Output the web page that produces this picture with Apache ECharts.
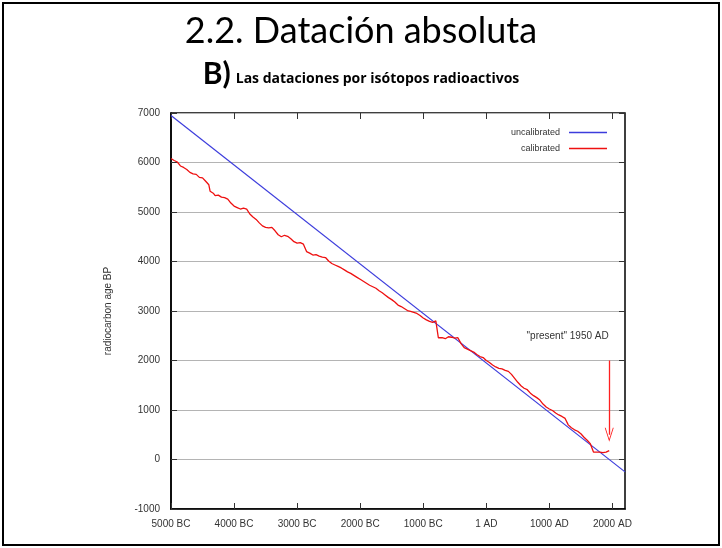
<!DOCTYPE html>
<html>
<head>
<meta charset="utf-8">
<script src="https://cdn.jsdelivr.net/npm/echarts@6/dist/echarts.min.js"></script>
<style>html,body{margin:0;padding:0;background:#fff}#c{width:722px;height:548px}</style>
</head>
<body>
<div id="c"></div>
<script>
// ---- data ----
const xTicks = [-5000, -4000, -3000, -2000, -1000, 0, 1000, 2000];
const yTicks = [-1000, 0, 1000, 2000, 3000, 4000, 5000, 6000, 7000];
const uncalYears = [-5000, 2200];
const uncalValues = [6950, -250];
const calYears = [-5000,-4950,-4900,-4850,-4800,-4750,-4700,-4650,-4600,-4550,-4500,-4450,-4400,-4380,-4330,-4300,-4250,-4200,-4150,-4100,-4050,-4000,-3950,-3900,-3850,-3800,-3750,-3700,-3650,-3600,-3550,-3500,-3450,-3400,-3350,-3300,-3250,-3200,-3150,-3100,-3050,-3000,-2950,-2900,-2850,-2800,-2750,-2700,-2650,-2600,-2550,-2500,-2450,-2400,-2350,-2300,-2250,-2200,-2150,-2100,-2050,-2000,-1950,-1900,-1850,-1800,-1750,-1700,-1650,-1600,-1550,-1500,-1450,-1400,-1350,-1300,-1250,-1200,-1150,-1100,-1050,-1000,-950,-900,-850,-800,-760,-700,-650,-600,-550,-500,-450,-400,-350,-300,-250,-200,-150,-100,-50,0,50,100,150,200,250,300,350,400,450,500,550,600,650,700,750,800,850,900,950,1000,1050,1100,1150,1200,1250,1300,1350,1400,1450,1500,1550,1600,1650,1700,1750,1800,1850,1900,1950];
const calValues = [6080,6040,6010,5930,5900,5860,5800,5770,5760,5700,5690,5620,5550,5420,5380,5330,5340,5300,5290,5260,5180,5120,5090,5060,5080,5060,4960,4900,4850,4780,4720,4690,4680,4690,4620,4540,4500,4530,4510,4460,4400,4370,4380,4350,4200,4170,4130,4140,4110,4090,4080,4010,3960,3930,3900,3870,3830,3790,3760,3720,3680,3640,3600,3560,3520,3490,3460,3410,3370,3320,3270,3230,3180,3120,3090,3050,3010,2990,2970,2950,2910,2860,2820,2790,2770,2800,2460,2460,2440,2480,2470,2450,2460,2340,2260,2230,2200,2170,2120,2080,2060,2000,1960,1910,1870,1840,1830,1800,1780,1720,1640,1560,1490,1440,1410,1340,1290,1250,1200,1120,1060,1020,990,940,900,870,830,700,640,600,570,520,450,390,320,150,150,150,140,150,180];
const seriesNames = ['uncalibrated', 'calibrated'];
const seriesColors = ['#3c3cdc', '#ee1010'];
const arrowFrom = [1950, 2000];
const arrowTo = [1950, 500];
const annotText = '"present" 1950 AD';
const annotAt = [1290, 2500];

function yearLabel(v) {
  if (v < 0) return (-v) + ' BC';
  if (v === 0) return '1 AD';
  return v + ' AD';
}

const chart = echarts.init(document.getElementById('c'), null, {renderer: 'canvas'});
const axisFont = {fontFamily: 'Liberation Sans', fontSize: 10, color: '#333'};

chart.setOption({
  animation: false,
  backgroundColor: '#fff',
  title: [
    {text: '2.2. Datación absoluta', left: 'center', top: 8,
     textStyle: {fontFamily: 'Lato', fontSize: 36, fontWeight: 'normal', color: '#000'}},
    {text: '{a|B)} {b|Las dataciones por isótopos radioactivos}', left: 'center', top: 54,
     textStyle: {rich: {
       a: {fontFamily: 'Lato', fontSize: 30, color: '#000', verticalAlign: 'bottom'},
       b: {fontFamily: 'Open Sans', fontSize: 14, fontWeight: 'bold', color: '#000', verticalAlign: 'bottom', padding: [0,0,3,0]}
     }}}
  ],
  graphic: [
    {type: 'rect', shape: {x: 3, y: 3, width: 716, height: 542}, style: {fill: 'none', stroke: '#000', lineWidth: 2}, silent: true}
  ],
  legend: {
    data: seriesNames.map((n, i) => ({name: n, icon: 'rect', itemStyle: {color: seriesColors[i]}})),
    orient: 'vertical', align: 'right',
    right: 110, top: 123, itemGap: 7,
    itemWidth: 38, itemHeight: 1.5,
    textStyle: {fontFamily: 'Liberation Sans', fontSize: 9, color: '#333', padding: [0, 4, 0, 0]}
  },
  grid: {left: 171, right: 97, top: 113, bottom: 39, show: true, borderColor: '#000', borderWidth: 1.5},
  xAxis: [
    {type: 'value', min: -5000, max: 2200, interval: 1000,
     axisLine: {show: true, onZero: false, lineStyle: {color: '#000', width: 1.5}},
     axisTick: {show: true, inside: true, length: 6, customValues: xTicks, lineStyle: {color: '#333'}},
     axisLabel: Object.assign({customValues: xTicks, formatter: yearLabel, margin: 10}, axisFont),
     splitLine: {show: false}},
    {type: 'value', position: 'top', min: -5000, max: 2200, interval: 1000,
     axisLine: {show: false, onZero: false},
     axisTick: {show: true, inside: true, length: 6, customValues: xTicks, lineStyle: {color: '#333'}},
     axisLabel: {show: false}, splitLine: {show: false}}
  ],
  yAxis: [
    {type: 'value', min: -1000, max: 7000, interval: 1000,
     name: 'radiocarbon age BP', nameLocation: 'middle', nameGap: 58, nameRotate: 90,
     nameTextStyle: {fontFamily: 'Liberation Sans', fontSize: 10, color: '#333'},
     axisLine: {show: true, onZero: false, lineStyle: {color: '#000', width: 1.5}},
     axisTick: {show: true, inside: true, length: 6, lineStyle: {color: '#333'}},
     axisLabel: Object.assign({margin: 11, formatter: v => String(v)}, axisFont),
     splitLine: {show: true, lineStyle: {color: '#b4b4b4', width: 1.2}}},
    {type: 'value', position: 'right', min: -1000, max: 7000, interval: 1000,
     axisLine: {show: false, onZero: false},
     axisTick: {show: true, inside: true, length: 6, lineStyle: {color: '#333'}},
     axisLabel: {show: false}, splitLine: {show: false}}
  ],
  series: [
    {name: seriesNames[0], type: 'line', xAxisIndex: 0, yAxisIndex: 0,
     data: uncalYears.map((y, i) => [y, uncalValues[i]]),
     showSymbol: false, symbol: 'none', clip: true,
     lineStyle: {color: seriesColors[0], width: 1.2}, itemStyle: {color: seriesColors[0]}},
    {name: seriesNames[1], type: 'line', xAxisIndex: 0, yAxisIndex: 0,
     data: calYears.map((y, i) => [y, calValues[i]]),
     showSymbol: false, symbol: 'none',
     lineStyle: {color: seriesColors[1], width: 1.3}, itemStyle: {color: seriesColors[1]},
     markLine: {silent: true, symbol: ['none', 'path://M0,10L5,0L10,10L9,10L5,2L1,10Z'], symbolSize: [9, 14],
       lineStyle: {color: '#ff2020', width: 1.3, type: 'solid', opacity: 1},
       itemStyle: {color: '#ff2020'},
       label: {show: false}, emphasis: {disabled: true},
       data: [[{coord: arrowFrom, lineStyle: {color: '#ff2020'}}, {coord: arrowTo}]]},
     markPoint: {silent: true, symbol: 'circle', symbolSize: 0,
       label: {show: true, formatter: annotText, position: 'inside', fontFamily: 'Liberation Sans', fontSize: 10, color: '#333'},
       data: [{coord: annotAt}]}}
  ]
});
</script>
</body>
</html>
